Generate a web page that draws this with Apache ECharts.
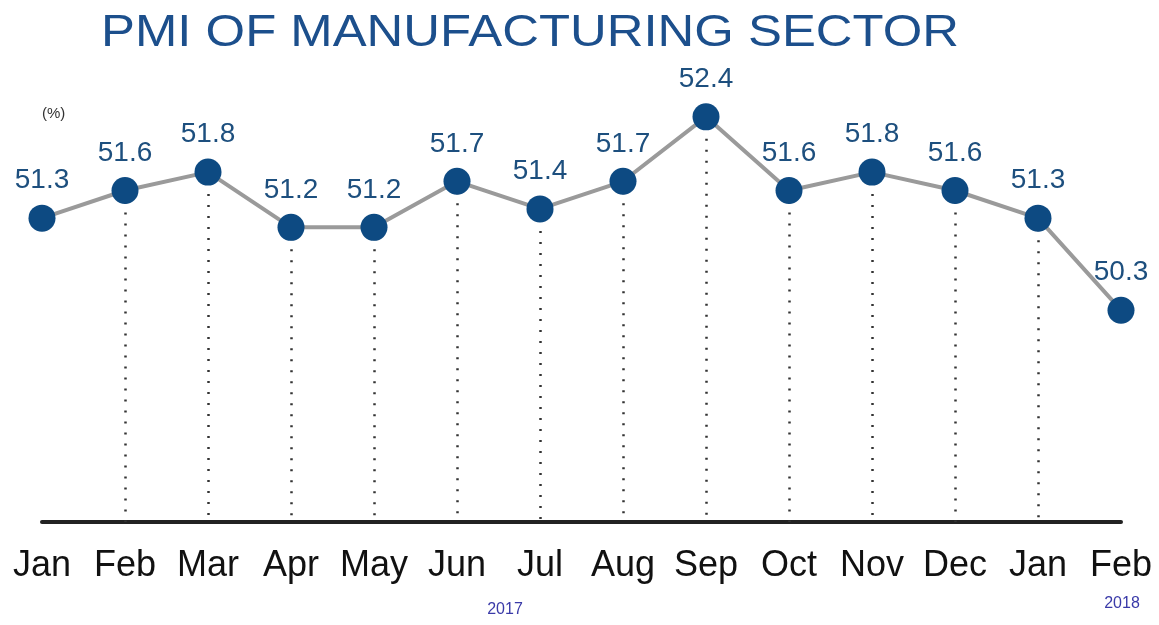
<!DOCTYPE html>
<html><head><meta charset="utf-8">
<script src="https://cdn.jsdelivr.net/npm/echarts@6/dist/echarts.min.js"></script>
<style>html,body{margin:0;padding:0;background:#fff}#c{width:1159px;height:625px}</style>
</head><body><div id="c"></div>
<script>
const categories = ['Jan','Feb','Mar','Apr','May','Jun','Jul','Aug','Sep','Oct','Nov','Dec','Jan','Feb'];
const pmi = [51.3,51.6,51.8,51.2,51.2,51.7,51.4,51.7,52.4,51.6,51.8,51.6,51.3,50.3];
const yMin = 48, yMax = 52.8;
const dropIdx = [1,2,3,4,5,6,7,8,9,10,11,12];
const titleText = 'PMI OF MANUFACTURING SECTOR';

const chart = echarts.init(document.getElementById('c'));
chart.setOption({
  animation:false,
  graphic:[
    {type:'text',x:530,y:34,scaleX:1.13,scaleY:1,style:{text:titleText,font:'45px "Liberation Sans", Arial',fill:'#1c4f8c',textAlign:'center',textVerticalAlign:'middle'}},
    {type:'text',left:42,top:106,style:{text:'(%)',font:'15px "Liberation Sans", Arial',fill:'#333'}},
    {type:'text',x:505,y:610,style:{text:'2017',font:'16px "Liberation Sans", Arial',fill:'#3a3aa8',textAlign:'center',textVerticalAlign:'middle'}},
    {type:'text',x:1122,y:604,style:{text:'2018',font:'16px "Liberation Sans", Arial',fill:'#3a3aa8',textAlign:'center',textVerticalAlign:'middle'}}
  ],
  grid:{left:42,right:38,top:80,bottom:103},
  xAxis:{type:'category',data:categories,boundaryGap:false,
    axisLine:{lineStyle:{color:'#222',width:4}},axisTick:{show:false},
    axisLabel:{fontFamily:'Liberation Sans, Arial, sans-serif',fontSize:36,color:'#111',margin:26,interval:0}},
  yAxis:{type:'value',min:yMin,max:yMax,show:false,splitLine:{show:false}},
  series:[{
    type:'line',data:pmi,symbol:'circle',symbolSize:27,z:3,
    lineStyle:{color:'#9a9a9a',width:4},
    itemStyle:{color:'#0d4a82'},
    label:{show:true,position:'top',distance:10,fontFamily:'Liberation Sans, Arial, sans-serif',fontSize:28,color:'#1d4f7e'},
    markLine:{silent:true,symbol:'none',label:{show:false},z:1,
      lineStyle:{type:[2,9],color:'#333',width:2.5},
      data:dropIdx.map(i=>[{coord:[i,pmi[i]]},{coord:[i,yMin]}])}
  }]
});
</script></body></html>
